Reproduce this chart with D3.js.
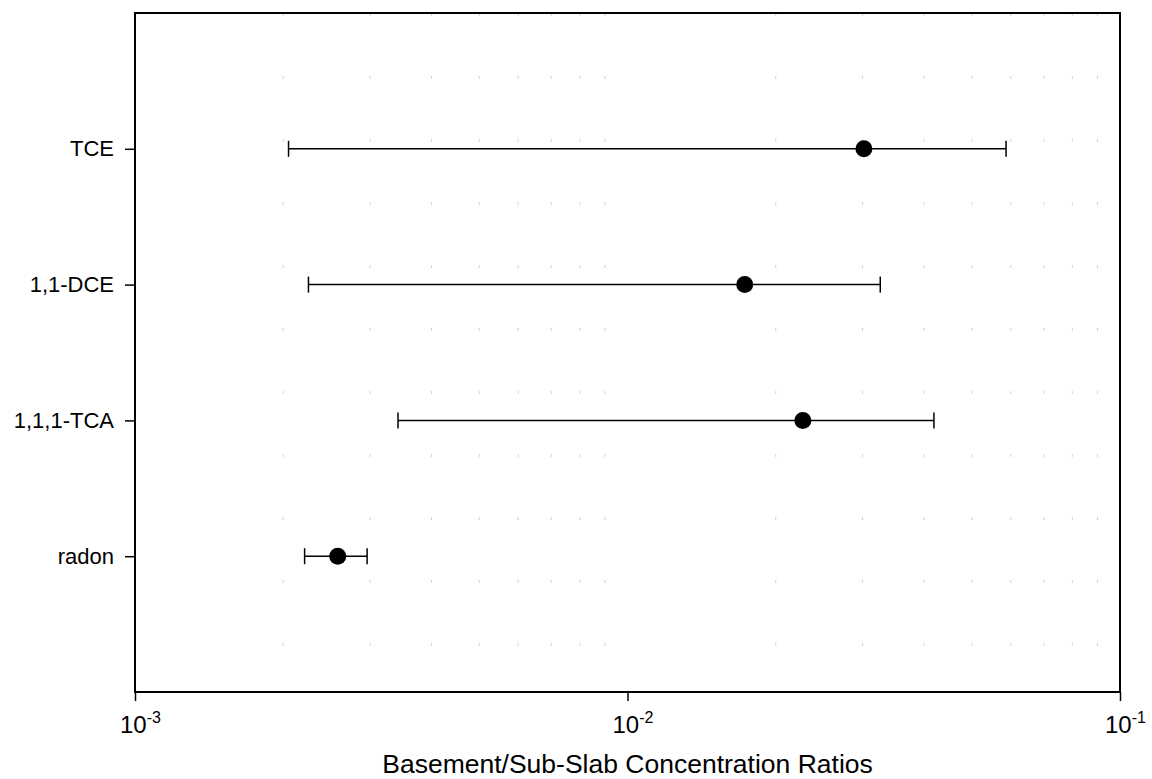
<!DOCTYPE html>
<html>
<head>
<meta charset="utf-8">
<script src="https://cdn.jsdelivr.net/npm/d3@7"></script>
<style>
  body { margin: 0; background: #fff; }
  svg { font-family: "Liberation Sans", Arial, sans-serif; }
</style>
</head>
<body>
<div id="chart"></div>
<script>
// data
const categories = ['TCE', '1,1-DCE', '1,1,1-TCA', 'radon']
const means = [0.0302, 0.0173, 0.0227, 0.00258]
const lows = [0.00205, 0.00225, 0.00342, 0.00221]
const highs = [0.0587, 0.0326, 0.0419, 0.00296]
const xTicks = [1e-3, 1e-2, 1e-1]
const xTickExp = ['-3', '-2', '-1']

const width = 1152
const height = 779
const margin = {top: 13, right: 32, bottom: 87, left: 135}

const svg = d3.select('#chart')
  .append('svg')
  .attr('width', width)
  .attr('height', height)

const x = d3.scaleLog()
  .domain([1e-3, 1e-1])
  .range([margin.left, width - margin.right])

// categories sit at 1..4 on a 0..5 scale, top to bottom
const y = d3.scaleLinear()
  .domain([0, categories.length + 1])
  .range([margin.top, height - margin.bottom])

// faint dotted minor grid (scan remnants in the original)
const minor = []
for (let e = -3; e < -1; e++) {
  for (let m = 2; m <= 9; m++) minor.push(m * Math.pow(10, e))
}
svg.append('g')
  .selectAll('line')
  .data(minor)
  .join('line')
  .attr('x1', d => x(d))
  .attr('x2', d => x(d))
  .attr('y1', y(0))
  .attr('y2', y(5))
  .style('stroke', '#d4d4d4')
  .style('stroke-width', 1)
  .style('stroke-dasharray', '3,60')

// frame
svg.append('rect')
  .attr('x', x(1e-3))
  .attr('y', y(0))
  .attr('width', x(1e-1) - x(1e-3))
  .attr('height', y(5) - y(0))
  .style('fill', 'none')
  .style('stroke', '#000')
  .style('stroke-width', 2)

// x axis
const xAxis = d3.axisBottom(x)
  .tickValues(xTicks)
  .tickSize(9)
  .tickFormat('')
const gx = svg.append('g')
  .attr('transform', `translate(0, ${y(5)})`)
  .call(xAxis)
gx.select('.domain').remove()
gx.selectAll('.tick line').style('stroke', '#000').style('stroke-width', 1.5)

const xLabel = svg.append('g')
  .selectAll('text')
  .data(xTicks)
  .join('text')
  .attr('x', d => x(d) - 15)
  .attr('y', 733)
  .attr('text-anchor', 'start')
  .style('font-size', '24px')
xLabel.append('tspan').text('10')
xLabel.append('tspan')
  .attr('dy', -10)
  .style('font-size', '16px')
  .text((d, i) => xTickExp[i])

// y axis
const yAxis = d3.axisLeft(y)
  .tickValues(categories.map((c, i) => i + 1))
  .tickSize(10)
  .tickPadding(11)
  .tickFormat(d => categories[d - 1])
const gy = svg.append('g')
  .attr('transform', `translate(${x(1e-3)}, 0)`)
  .call(yAxis)
gy.select('.domain').remove()
gy.selectAll('.tick line').style('stroke', '#000').style('stroke-width', 1.5)
gy.selectAll('.tick text')
  .style('font-size', '22px')
  .style('fill', '#000')
  .style('font-family', '"Liberation Sans", Arial, sans-serif')

// error bars
const rows = categories.map((c, i) => ({c, i, lo: lows[i], hi: highs[i], m: means[i]}))
const bars = svg.append('g')
  .selectAll('g')
  .data(rows)
  .join('g')
  .attr('transform', d => `translate(0, ${y(d.i + 1)})`)

bars.append('line')
  .attr('x1', d => x(d.lo))
  .attr('x2', d => x(d.hi))
  .style('stroke', '#000')
  .style('stroke-width', 1.5)

bars.selectAll('.cap')
  .data(d => [d.lo, d.hi])
  .join('line')
  .attr('class', 'cap')
  .attr('x1', d => x(d))
  .attr('x2', d => x(d))
  .attr('y1', -8)
  .attr('y2', 8)
  .style('stroke', '#000')
  .style('stroke-width', 1.5)

bars.append('circle')
  .attr('cx', d => x(d.m))
  .attr('r', 8.5)
  .style('fill', '#000')

// axis title
svg.append('text')
  .attr('x', (x(1e-3) + x(1e-1)) / 2)
  .attr('y', 773)
  .attr('text-anchor', 'middle')
  .style('font-size', '26.5px')
  .text('Basement/Sub-Slab Concentration Ratios')
</script>
</body>
</html>
